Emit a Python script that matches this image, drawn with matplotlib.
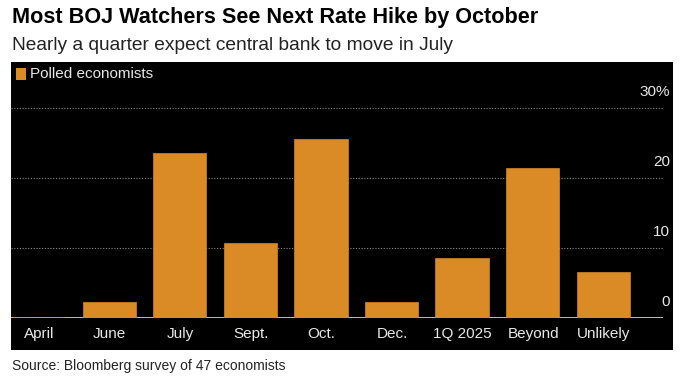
import matplotlib.pyplot as plt
from matplotlib.patches import Rectangle

# Data: share of polled economists (%), 47 in total
categories = ['April', 'June', 'July', 'Sept.', 'Oct.', 'Dec.', '1Q 2025', 'Beyond', 'Unlikely']
shares = [0.0, 2.1, 23.4, 10.6, 25.5, 2.1, 8.5, 21.3, 6.4]
y_ticks = [0, 10, 20, 30]
y_tick_labels = ['0', '10', '20', '30%']

W, H = 690, 382
bar_color = '#DB8B26'
label_font = ['Liberation Sans Narrow', 'Liberation Sans', 'DejaVu Sans']

fig = plt.figure(figsize=(W / 100, H / 100), dpi=100)
fig.patch.set_facecolor('white')

def fx(px):
    return px / W

def fy(py):
    return 1 - py / H

# black panel behind the chart
bg = fig.add_axes([fx(11), fy(350), fx(673) - fx(11), fy(62) - fy(350)], zorder=0)
bg.set_facecolor('black')
bg.set_xticks([])
bg.set_yticks([])
for s in bg.spines.values():
    s.set_visible(False)

ax = fig.add_axes([fx(11), fy(318), fx(663) - fx(11), fy(62) - fy(318)], zorder=1)
ax.set_facecolor('none')
x = range(len(categories))
ax.axhline(0, color='#dddddd', linewidth=1.2, zorder=2)
ax.bar(x, shares, width=0.74, color=bar_color, edgecolor=bar_color, linewidth=1.2, zorder=3)
ax.set_xlim(-0.40, 8.84)
ax.set_ylim(0, (318 - 62) / 7)

for t in y_ticks[1:]:
    ax.axhline(t, color='#8a8a8a', linestyle=(0, (1, 1.5)), linewidth=0.8, zorder=1)

for t, lab in zip(y_ticks, y_tick_labels):
    ax.text(1.0 + 7 / (663 - 11), t + 1.3, lab, transform=ax.get_yaxis_transform(),
            ha='right', va='bottom', color='#e8e8e8', fontsize=11, family=label_font)

for xi, c in zip(x, categories):
    ax.text(xi, -2.9, c, ha='center', va='baseline', color='#e8e8e8', fontsize=11,
            family=label_font, clip_on=False)

ax.set_xticks([])
ax.set_yticks([])
for s in ax.spines.values():
    s.set_visible(False)

# legend
ax.add_patch(Rectangle((fx(16), fy(80)), fx(10), fy(68) - fy(80),
                       transform=fig.transFigure, facecolor=bar_color, clip_on=False))
fig.text(fx(30), fy(74.5), 'Polled economists', color='#e8e8e8', fontsize=11,
         family=label_font, va='center', ha='left')

fig.text(fx(12), fy(18), 'Most BOJ Watchers See Next Rate Hike by October',
         fontsize=15.6, fontweight='bold', family='Liberation Sans', va='center', ha='left')
fig.text(fx(12), fy(46), 'Nearly a quarter expect central bank to move in July',
         fontsize=13.8, family='Liberation Sans', va='center', ha='left', color='#222222')
fig.text(fx(12), fy(366), 'Source: Bloomberg survey of 47 economists',
         fontsize=10, family='Liberation Sans', va='center', ha='left', color='#222222')

fig.savefig('out.png', dpi=100, facecolor='white')
